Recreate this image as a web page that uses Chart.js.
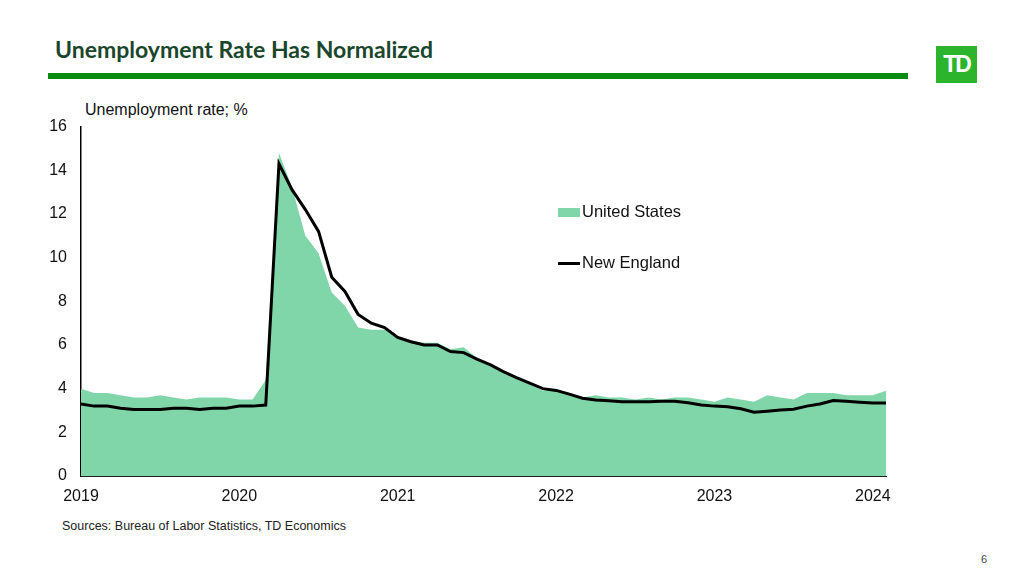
<!DOCTYPE html>
<html>
<head>
<meta charset="utf-8">
<script src="https://cdn.jsdelivr.net/npm/chart.js@4"></script>
<style>
  body { margin: 0; width: 1024px; height: 576px; background: #fff; position: relative; overflow: hidden; font-family: "Liberation Sans", Arial, sans-serif; }
  #title { position: absolute; left: 55px; top: 35px; font: bold 23px Lato, "Open Sans", sans-serif; color: #1a472c; }
  #rule { position: absolute; left: 48px; top: 73px; width: 860px; height: 6px; background: #0b8a14; }
  #logo { position: absolute; left: 936px; top: 46px; width: 41px; height: 37px; background: #2cb42c; color: #fff; font: bold 23px "Liberation Sans", sans-serif; text-align: center; line-height: 37px; letter-spacing: -2px; }
  #ytitle { position: absolute; left: 85px; top: 101px; font-size: 16px; color: #111; }
  #wrap { position: absolute; left: 30px; top: 103px; width: 867px; height: 407px; }
  .leg { position: absolute; left: 558px; font-size: 16.5px; color: #111; }
  .sw { display: inline-block; vertical-align: middle; width: 22px; margin-right: 2px; }
  #source { position: absolute; left: 62px; top: 519px; font-size: 12.5px; color: #222; }
  #page { position: absolute; left: 981px; top: 553px; font-size: 11px; color: #444; }
</style>
</head>
<body>
<div id="title">Unemployment Rate Has Normalized</div>
<div id="rule"></div>
<div id="logo">TD</div>
<div id="ytitle">Unemployment rate; %</div>
<div id="wrap"><canvas id="chart"></canvas></div>
<div class="leg" style="top:202px"><span class="sw" style="height:9px;background:#80d6a8"></span>United States</div>
<div class="leg" style="top:253px"><span class="sw" style="height:3px;background:#000"></span>New England</div>
<div id="source">Sources: Bureau of Labor Statistics, TD Economics</div>
<div id="page">6</div>
<script>
// monthly, Jan 2019 - Feb 2024
const months = []
for (let y = 2019; y <= 2024; y++) {
  for (let m = 1; m <= 12; m++) {
    if (y === 2024 && m > 2) break
    months.push(y + '-' + String(m).padStart(2, '0'))
  }
}

const unitedStates = [
  4.0, 3.8, 3.8, 3.7, 3.6, 3.6, 3.7, 3.6, 3.5, 3.6, 3.6, 3.6,
  3.5, 3.5, 4.4, 14.8, 13.2, 11.0, 10.2, 8.4, 7.8, 6.8, 6.7, 6.7,
  6.4, 6.2, 6.1, 6.1, 5.8, 5.9, 5.4, 5.1, 4.7, 4.5, 4.2, 3.9,
  4.0, 3.8, 3.6, 3.7, 3.6, 3.6, 3.5, 3.6, 3.5, 3.6, 3.6, 3.5,
  3.4, 3.6, 3.5, 3.4, 3.7, 3.6, 3.5, 3.8, 3.8, 3.8, 3.7, 3.7,
  3.7, 3.9
]

const newEngland = [
  3.3, 3.2, 3.2, 3.1, 3.05, 3.05, 3.05, 3.1, 3.1, 3.05, 3.1, 3.1,
  3.2, 3.2, 3.25, 14.3, 13.1, 12.2, 11.2, 9.1, 8.45, 7.4, 7.0, 6.8,
  6.35, 6.15, 6.0, 6.0, 5.7, 5.65, 5.35, 5.1, 4.78, 4.5, 4.25, 4.0,
  3.92, 3.75, 3.56, 3.48, 3.45, 3.4, 3.4, 3.4, 3.42, 3.42, 3.35, 3.25,
  3.2, 3.17, 3.08, 2.92, 2.97, 3.02, 3.06, 3.2, 3.3, 3.46, 3.42, 3.38,
  3.34, 3.34
]

const yTicks = [0, 2, 4, 6, 8, 10, 12, 14, 16]

const ctx = document.getElementById('chart').getContext('2d')
new Chart(ctx, {
  type: 'line',
  data: {
    labels: months,
    datasets: [{
      label: 'United States',
      data: unitedStates,
      fill: 'origin',
      backgroundColor: '#80d6a8',
      borderWidth: 0,
      pointRadius: 0,
      tension: 0,
      order: 2
    }, {
      label: 'New England',
      data: newEngland,
      fill: false,
      borderColor: '#000',
      borderWidth: 3,
      pointRadius: 0,
      tension: 0,
      order: 1
    }]
  },
  options: {
    responsive: true,
    maintainAspectRatio: false,
    animation: false,
    layout: { padding: { top: 16, right: 0, left: 0, bottom: 0 } },
    plugins: { legend: { display: false }, tooltip: { enabled: false } },
    scales: {
      x: {
        grid: { display: false, drawTicks: false },
        border: { display: true, color: '#222', width: 1 },
        afterFit: (scale) => { scale.height = 34 },
        ticks: {
          autoSkip: false,
          maxRotation: 0,
          padding: 11,
          color: '#111',
          font: { family: 'Liberation Sans', size: 16 },
          callback: function (value) {
            const lab = months[value]
            return lab.endsWith('-01') ? lab.slice(0, 4) : ''
          }
        }
      },
      y: {
        min: 0,
        max: 16,
        afterFit: (scale) => { scale.width = 51 },
        afterBuildTicks: (scale) => { scale.ticks = yTicks.map(v => ({ value: v })) },
        grid: { display: false, drawTicks: false },
        border: { display: true, color: '#000', width: 1.5 },
        ticks: {
          padding: 14,
          color: '#111',
          font: { family: 'Liberation Sans', size: 16 }
        }
      }
    }
  }
})
</script>
</body>
</html>
